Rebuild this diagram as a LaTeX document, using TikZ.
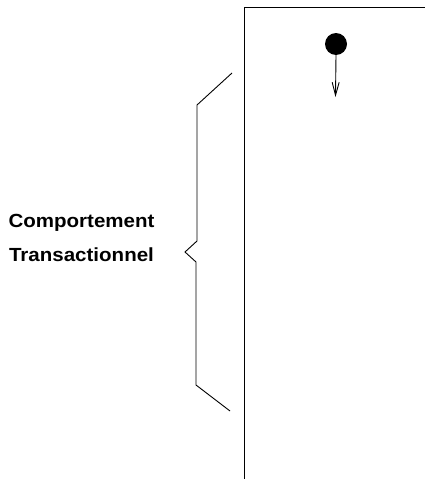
\documentclass[tikz,border=0pt]{standalone}
\usepackage{fontspec}
\setmainfont{Liberation Sans}
\usetikzlibrary{arrows.meta}
\begin{document}
\begin{tikzpicture}[x=1pt,y=-1pt,
  ln/.style={line width=0.9pt,black},
  lbl/.style={font=\fontsize{19}{34}\selectfont\bfseries,align=center,inner sep=0pt}]
\useasboundingbox (0,0) rectangle (425,479);
% frame
\coordinate (tr) at (425,7.5);
\coordinate (tl) at (244,7.5);
\coordinate (bl) at (244,479);
\draw[ln] (tr) -- (tl) -- (bl);
% initial state and arrow
\node[circle,fill=black,inner sep=0pt,minimum size=22pt] (init) at (336,44) {};
\coordinate (arrend) at (335.5,97);
\draw[ln,-{Straight Barb[length=13pt,width=7pt]}] (init.south) -- (arrend);
% brace
\coordinate (b1) at (232,73);
\coordinate (b2) at (197,105);
\coordinate (b3) at (197,241);
\coordinate (b4) at (185,252);
\coordinate (b5) at (196,262);
\coordinate (b6) at (196,385);
\coordinate (b7) at (230,411);
\draw[ln] (b1) -- (b2) -- (b3) -- (b4) -- (b5) -- (b6) -- (b7);
% label
\node[lbl,anchor=center] (lab) at (81.5,238) {\scalebox{1.08}[1]{Comportement}\\\scalebox{1.08}[1]{Transactionnel}};
\end{tikzpicture}
\end{document}
